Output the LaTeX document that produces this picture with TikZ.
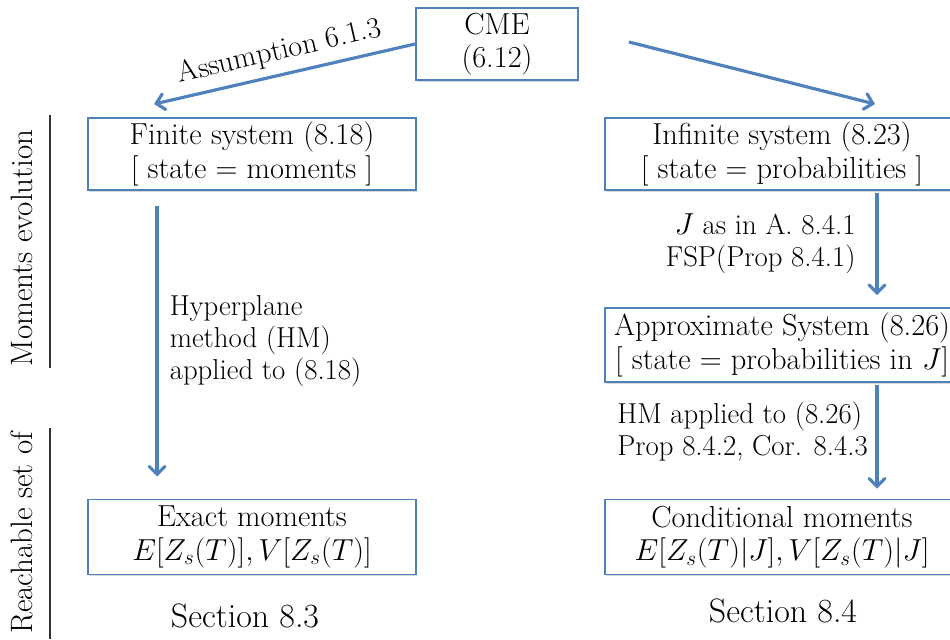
\documentclass[tikz,border=0pt]{standalone}
\usepackage{amsmath}
\usetikzlibrary{calc}
\usetikzlibrary{arrows}
\usetikzlibrary{shadows}
\definecolor{boxblue}{RGB}{79,129,189}
\tikzset{
  sysbox/.style={draw=boxblue, line width=1.1pt, fill=white, align=center,
    inner sep=2pt, font=\fontsize{17.3}{19}\selectfont,
    drop shadow={opacity=0.3, shadow xshift=0.7pt, shadow yshift=-1pt}},
  flow/.style={->, >=angle 90, draw=boxblue, line width=1.8pt},
  note/.style={font=\fontsize{16.4}{18.4}\selectfont},
  side/.style={rotate=90, font=\fontsize{17.6}{20}\selectfont},
  sect/.style={font=\fontsize{19.3}{22}\selectfont},
}

\begin{document}
\begin{tikzpicture}[x=0.02cm, y=-0.02cm]
\clip (0,0) rectangle (950,639);

\node (cme) [sysbox, minimum width=3.24cm, minimum height=1.44cm] at (497,44) {CME\\(6.12)};
\node (fin) [sysbox, minimum width=6.56cm, minimum height=1.44cm] at (252,154) {Finite system (8.18)\\{}[ state $=$ moments ]};
\node (inf) [sysbox, minimum width=7.1cm, minimum height=1.44cm] at (782,154) {Infinite system (8.23)\\{}[ state $=$ probabilities ]};
\node (apx) [sysbox, minimum width=7.1cm, minimum height=1.48cm] at (782,345) {Approximate System (8.26)\\{}[ state $=$ probabilities in $J$]};
\node (exa) [sysbox, minimum width=6.56cm, minimum height=1.5cm] at (252,537) {Exact moments\\$E[Z_s(T)], V[Z_s(T)]$};
\node (con) [sysbox, minimum width=7.1cm, minimum height=1.5cm] at (782,537) {Conditional moments\\$E[Z_s(T)|J], V[Z_s(T)|J]$};

\node (sec3) [sect] at (245,616) {Section 8.3};
\node (sec4) [sect] at (783,611) {Section 8.4};

% side labels
\node (lmom) [side] at (22,248) {Moments evolution};
\node (lrea) [side] at (22,533) {Reachable set of};
\draw [line width=0.8pt, black!80] (50,115) -- (50,368);
\draw [line width=0.8pt, black!80] (50,428) -- (50,639);

\draw [flow] (cme.west) -- ($(fin.north west)+(67,-13)$)
  node [midway, above=1pt, sloped, font=\fontsize{17}{19}\selectfont] {Assumption 6.1.3};
\draw [flow] ($(cme.east)+(50,-2)$) -- ($(inf.north)+(93,-13)$);

\draw [flow] ($(fin.south west)+(70,15)$) -- ($(exa.north west)+(70,-22)$)
  node [midway, right=3pt, align=left, note] {Hyperplane\\method (HM)\\applied to (8.18)};
\draw [flow] ($(inf.south)+(95,2)$) -- ($(apx.north)+(95,-12)$)
  node [midway, left=8pt, align=right, note] {$J$ as in A. 8.4.1\\FSP(Prop 8.4.1)};
\draw [flow] ($(apx.south)+(95,2)$) -- ($(con.north)+(95,-10)$)
  node [pos=0.45, left=1pt, align=left, note] {HM applied to (8.26)\\Prop 8.4.2, Cor. 8.4.3};

\end{tikzpicture}
\end{document}
